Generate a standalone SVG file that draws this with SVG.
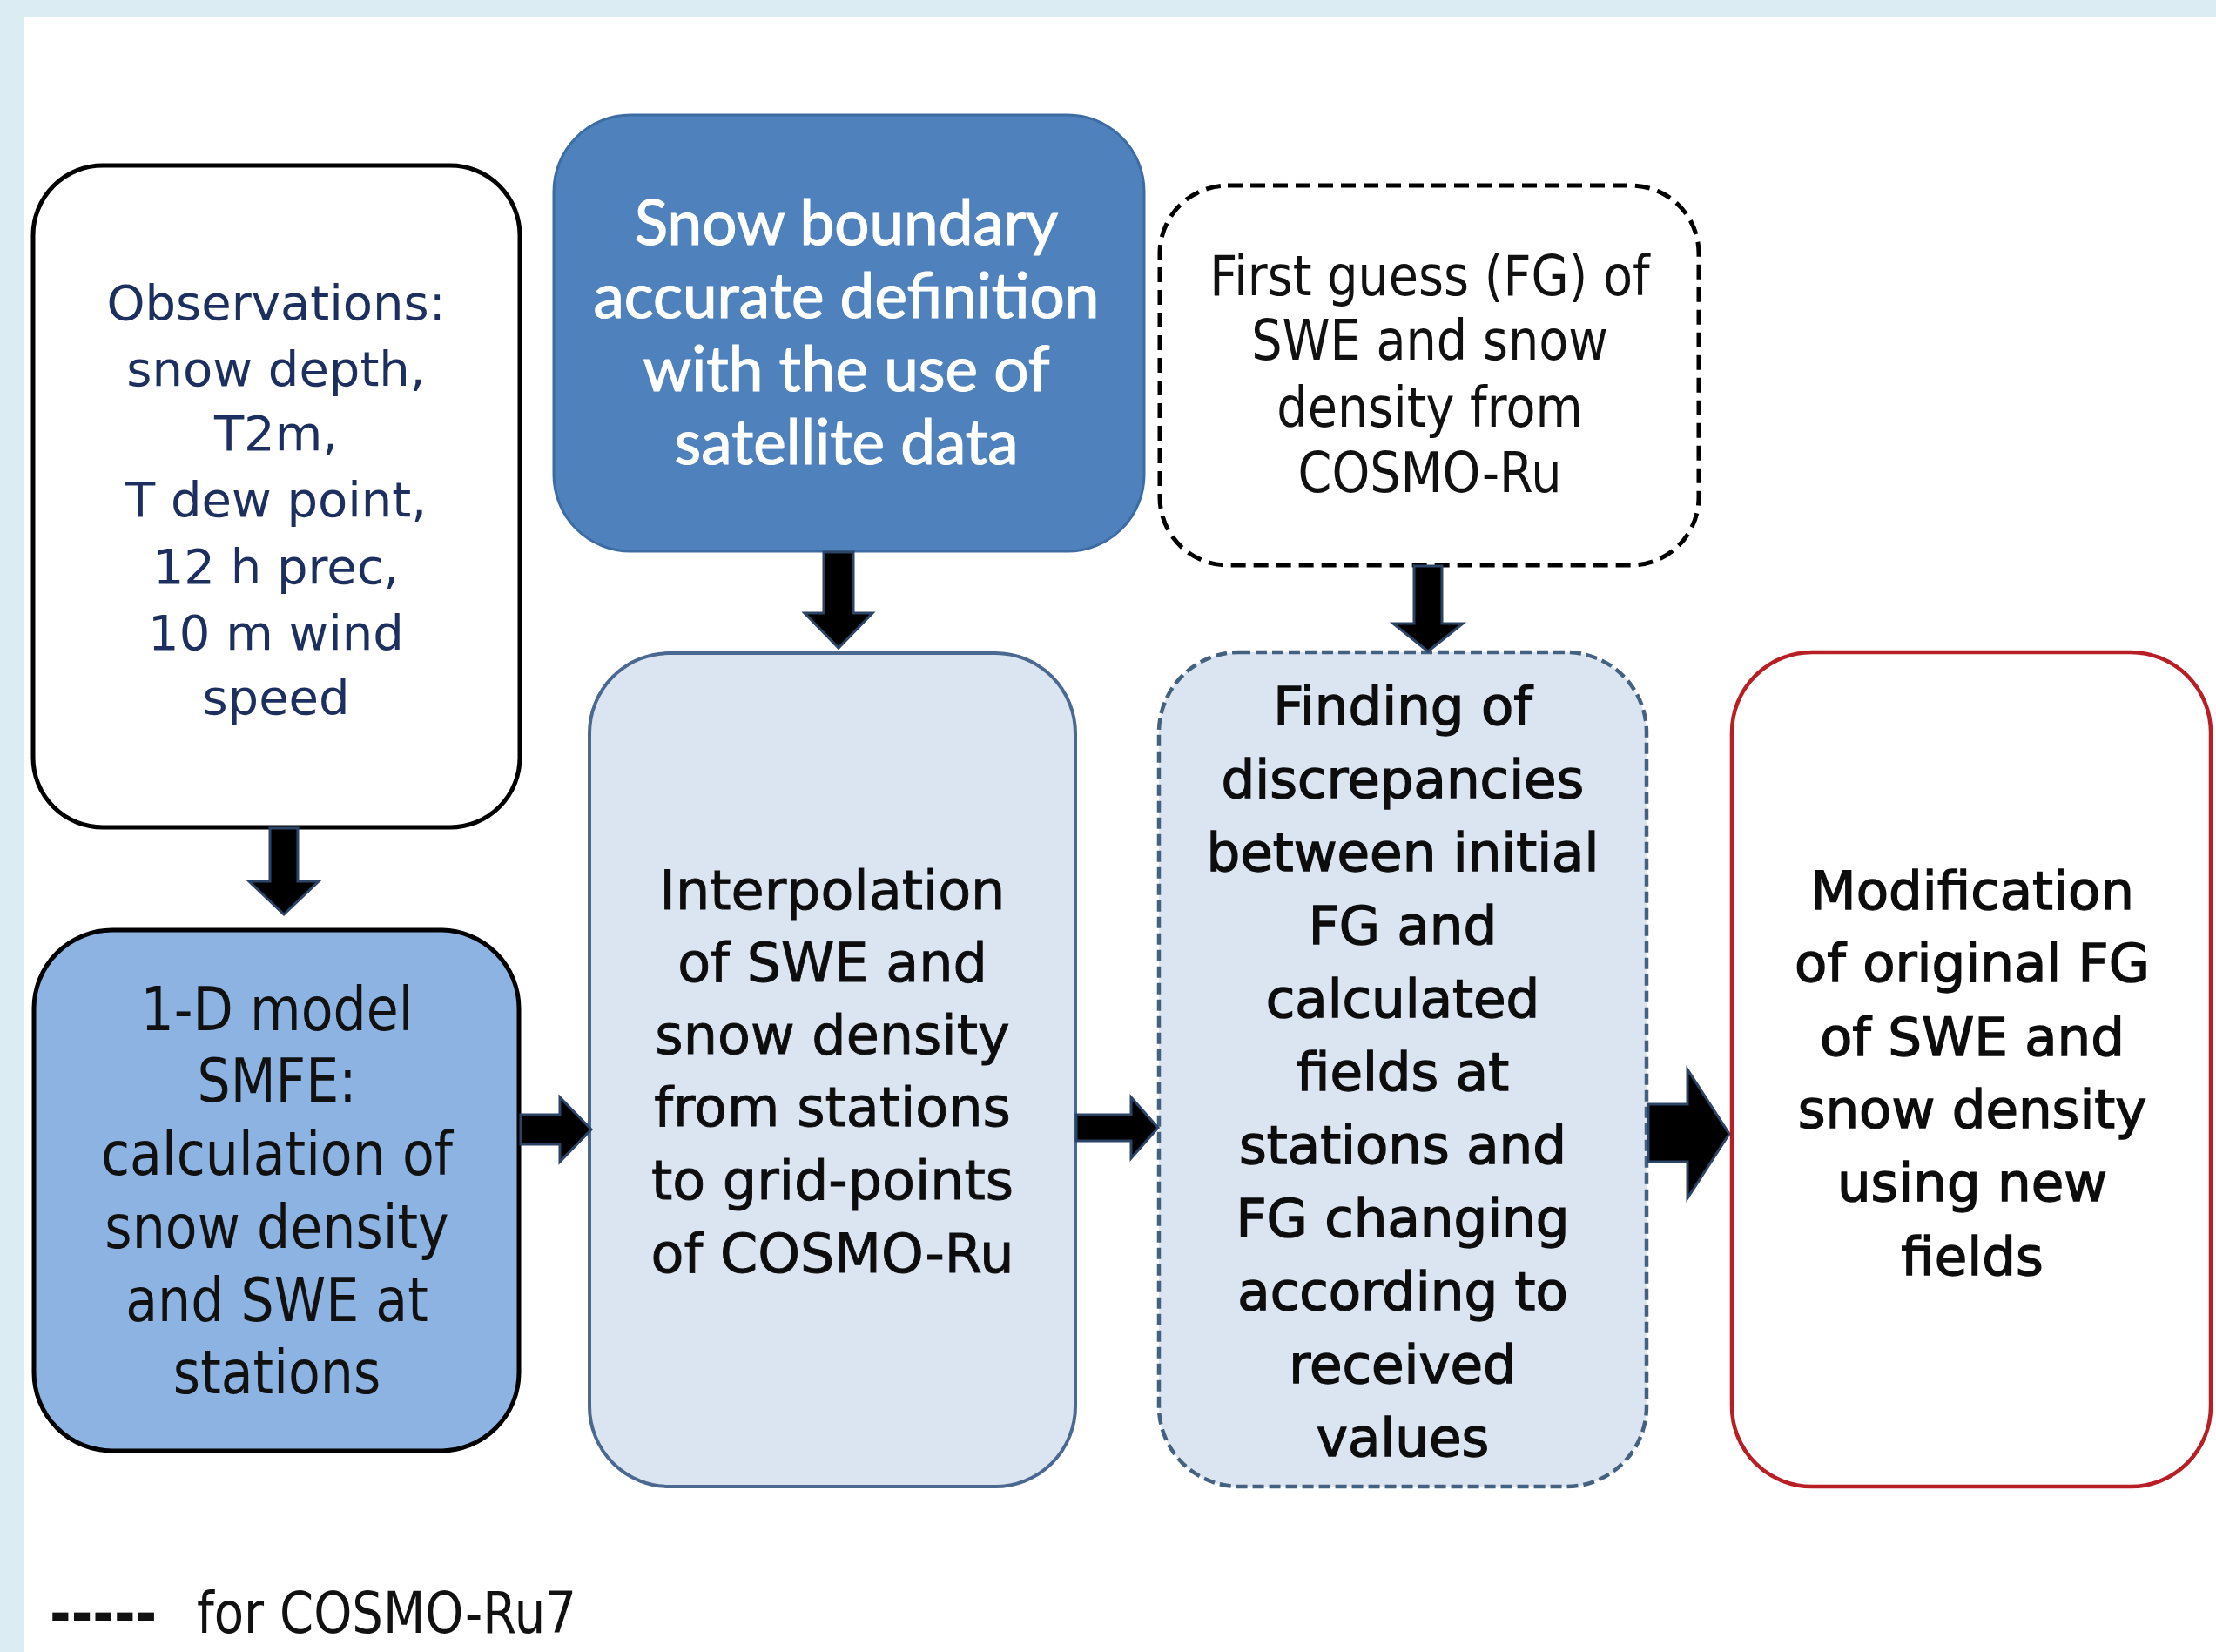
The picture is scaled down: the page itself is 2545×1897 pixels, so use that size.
<svg xmlns="http://www.w3.org/2000/svg" width="2545" height="1897" viewBox="0 0 2545 1897">
<style>
.t{font-family:"DejaVu Sans","Verdana",sans-serif;text-anchor:middle}
.obs{font-size:56px;fill:#1c2f5e}
.snow{font-family:Lato,"Open Sans",sans-serif;font-size:71px;fill:#ffffff;stroke:#ffffff;stroke-width:1.2;text-anchor:middle}
.oned{font-size:70px;fill:#111111}
.mid{font-size:62px;fill:#0d0d0d;stroke:#0d0d0d;stroke-width:0.9}
.fnd{font-size:61px;fill:#0d0d0d;stroke:#0d0d0d;stroke-width:1.4}
.fg{font-size:64px;fill:#111111}
.leg{font-family:"DejaVu Sans",sans-serif;font-size:66px;fill:#111111}
.arr{fill:#000000;stroke:#2c4466;stroke-width:3;stroke-linejoin:miter}
</style>
<rect x="0" y="0" width="2545" height="1897" fill="#dbecf3"/>
<rect x="28" y="20" width="2517" height="1877" fill="#ffffff"/>

<g id="observations">
<rect x="38" y="190" width="559" height="760" rx="80" ry="80" fill="#ffffff" stroke="#000000" stroke-width="5"/>
<text class="t obs" x="317" y="367">Observations:</text>
<text class="t obs" x="317" y="443">snow depth,</text>
<text class="t obs" x="317" y="517">T2m,</text>
<text class="t obs" x="317" y="593">T dew point,</text>
<text class="t obs" x="317" y="670">12 h prec,</text>
<text class="t obs" x="317" y="746">10 m wind</text>
<text class="t obs" x="317" y="820">speed</text>
</g>

<g id="snow-boundary">
<rect x="636" y="132" width="678" height="501" rx="88" ry="88" fill="#4f81bd" stroke="#3d6ca3" stroke-width="3"/>
<text class="snow" x="972" y="281">Snow boundary</text>
<text class="snow" x="972" y="365">accurate definition</text>
<text class="snow" x="972" y="449">with the use of</text>
<text class="snow" x="972" y="533">satellite data</text>
</g>

<g id="first-guess">
<rect x="1332" y="213" width="619" height="436" rx="78" ry="78" fill="#ffffff" stroke="#000000" stroke-width="5" stroke-dasharray="17 9"/>
<g transform="translate(1642,0) scale(0.87,1)">
<text class="t fg" x="0" y="339">First guess (FG) of</text>
<text class="t fg" x="0" y="413">SWE and snow</text>
<text class="t fg" x="0" y="490">density from</text>
<text class="t fg" x="0" y="565">COSMO-Ru</text>
</g>
</g>

<g id="one-d-model">
<rect x="39" y="1068" width="557" height="598" rx="90" ry="90" fill="#8db3e2" stroke="#000000" stroke-width="5"/>
<g transform="translate(318,0) scale(0.86,1)">
<text class="t oned" x="0" y="1183">1-D model</text>
<text class="t oned" x="0" y="1265">SMFE:</text>
<text class="t oned" x="0" y="1349">calculation of</text>
<text class="t oned" x="0" y="1433">snow density</text>
<text class="t oned" x="0" y="1517">and SWE at</text>
<text class="t oned" x="0" y="1600">stations</text>
</g>
</g>

<g id="interpolation">
<rect x="677" y="750" width="558" height="957" rx="92" ry="92" fill="#dbe5f1" stroke="#4a6890" stroke-width="4"/>
<text class="t mid" x="956" y="1044">Interpolation</text>
<text class="t mid" x="956" y="1127">of SWE and</text>
<text class="t mid" x="956" y="1210">snow density</text>
<text class="t mid" x="956" y="1293">from stations</text>
<text class="t mid" x="956" y="1377">to grid-points</text>
<text class="t mid" x="956" y="1461">of COSMO-Ru</text>
</g>

<g id="finding">
<rect x="1331" y="749" width="560" height="958" rx="92" ry="92" fill="#dbe5f1" stroke="#44617f" stroke-width="4.5" stroke-dasharray="13 6"/>
<text class="t fnd" x="1611" y="832">Finding of</text>
<text class="t fnd" x="1611" y="916">discrepancies</text>
<text class="t fnd" x="1611" y="1000">between initial</text>
<text class="t fnd" x="1611" y="1084">FG and</text>
<text class="t fnd" x="1611" y="1168">calculated</text>
<text class="t fnd" x="1611" y="1252">fields at</text>
<text class="t fnd" x="1611" y="1336">stations and</text>
<text class="t fnd" x="1611" y="1420">FG changing</text>
<text class="t fnd" x="1611" y="1504">according to</text>
<text class="t fnd" x="1611" y="1588">received</text>
<text class="t fnd" x="1611" y="1672">values</text>
</g>

<g id="modification">
<rect x="1989" y="749" width="550" height="958" rx="92" ry="92" fill="#ffffff" stroke="#b81f25" stroke-width="4.5"/>
<text class="t fnd" x="2265" y="1044">Modification</text>
<text class="t fnd" x="2265" y="1127">of original FG</text>
<text class="t fnd" x="2265" y="1212">of SWE and</text>
<text class="t fnd" x="2265" y="1295">snow density</text>
<text class="t fnd" x="2265" y="1379">using new</text>
<text class="t fnd" x="2265" y="1464">fields</text>
</g>

<g id="connectors">
<path class="arr" d="M310,951 L342,951 L342,1012 L366,1012 L326,1050 L286,1012 L310,1012 Z"/>
<path class="arr" d="M946,634 L980,634 L980,704 L1002,704 L963,744 L924,704 L946,704 Z"/>
<path class="arr" d="M1624,650 L1656,650 L1656,716 L1680,716 L1640,748 L1600,716 L1624,716 Z"/>
<path class="arr" d="M598,1280 L643,1280 L643,1260 L679,1297 L643,1334 L643,1314 L598,1314 Z"/>
<path class="arr" d="M1236,1280 L1299,1280 L1299,1260 L1330,1295 L1299,1330 L1299,1310 L1236,1310 Z"/>
<path class="arr" d="M1893,1268 L1938,1268 L1938,1228 L1986,1302 L1938,1376 L1938,1334 L1893,1334 Z"/>
</g>

<g id="legend">
<g transform="translate(57,0) scale(0.9,1)">
<text class="leg" x="0" y="1875" font-weight="bold">-----</text>
</g>
<g transform="translate(226,0) scale(0.85,1)">
<text class="leg" x="0" y="1875">for COSMO-Ru7</text>
</g>
</g>
</svg>
